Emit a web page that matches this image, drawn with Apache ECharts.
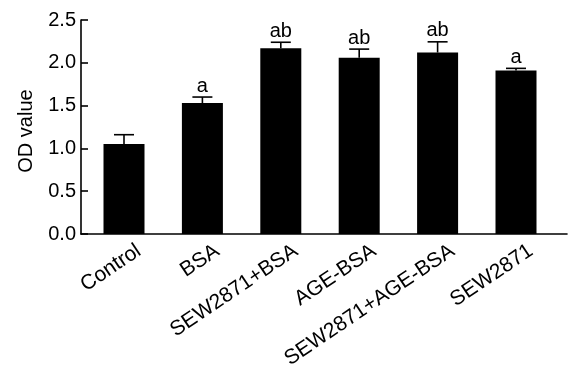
<!DOCTYPE html>
<html>
<head>
<meta charset="utf-8">
<script src="https://cdn.jsdelivr.net/npm/echarts@6/dist/echarts.min.js"></script>
<style>html,body{margin:0;padding:0;background:#fff;}#c{width:568px;height:367px;}</style>
</head>
<body>
<div id="c"></div>
<script>
var categories = ['Control', 'BSA', 'SEW2871+BSA', 'AGE-BSA', 'SEW2871+AGE-BSA', 'SEW2871'];
var means = [1.05, 1.53, 2.17, 2.06, 2.12, 1.91];
var errors = [0.11, 0.07, 0.07, 0.10, 0.125, 0.025];
var sigLabels = ['', 'a', 'ab', 'ab', 'ab', 'a'];
var yTicks = [0, 0.5, 1.0, 1.5, 2.0, 2.5];

var FONT = 'Liberation Sans';
var FS = 20;
var XFS = 21;
var chart = echarts.init(document.getElementById('c'), null, {renderer: 'canvas'});
var errData = means.map(function (m, i) { return [i, m, errors[i]]; });

chart.setOption({
  animation: false,
  backgroundColor: '#fff',
  textStyle: {fontFamily: FONT},
  grid: [
    {left: 81, right: 1, top: 20, bottom: 133},
    {left: 84.8, right: 12.8, top: 20, bottom: 133}
  ],
  xAxis: [
    {gridIndex: 0, type: 'value', min: 0, max: 1, axisLine: {show: true, onZero: false, lineStyle: {color: '#000', width: 1.6}},
     axisTick: {show: false}, axisLabel: {show: false}, splitLine: {show: false}},
    {gridIndex: 1, type: 'category', data: categories, boundaryGap: true,
     axisLine: {show: false}, axisTick: {show: false}, splitLine: {show: false},
     axisLabel: {show: false}}
  ],
  yAxis: [
    {gridIndex: 0, type: 'value', min: yTicks[0], max: yTicks[yTicks.length - 1], interval: 0.5,
     name: 'OD value', nameLocation: 'middle', nameGap: 45, nameRotate: 90,
     nameTextStyle: {fontSize: FS, color: '#000', fontFamily: FONT, padding: [0, 8, 0, 0]},
     axisLine: {show: true, lineStyle: {color: '#000', width: 1.6}},
     axisTick: {show: true, inside: true, length: 7, lineStyle: {color: '#000', width: 1.6}},
     axisLabel: {fontSize: FS, color: '#000', margin: 5, fontFamily: FONT, formatter: function (v) { return v.toFixed(1); }},
     splitLine: {show: false}},
    {gridIndex: 1, type: 'value', min: 0, max: 2.5, show: false}
  ],
  series: [
    {type: 'bar', xAxisIndex: 1, yAxisIndex: 1, data: means, barWidth: 41,
     itemStyle: {color: '#000'}, z: 2},
    {type: 'custom', xAxisIndex: 1, yAxisIndex: 1, data: errData, z: 3, clip: false,
     renderItem: function (params, api) {
       var i = api.value(0), m = api.value(1), e = api.value(2);
       var lbl = sigLabels[i];
       var top = api.coord([i, m]);
       var cap = api.coord([i, m + e]);
       var base = api.coord([i, 0]);
       var hw = 10;
       var children = [
         {type: 'line', shape: {x1: top[0], y1: top[1], x2: cap[0], y2: cap[1]}, style: {stroke: '#000', lineWidth: 1.6}},
         {type: 'line', shape: {x1: cap[0] - hw, y1: cap[1], x2: cap[0] + hw, y2: cap[1]}, style: {stroke: '#000', lineWidth: 1.6}},
         {type: 'text', x: base[0] + 15, y: base[1] + 15, rotation: 34 * Math.PI / 180,
          style: {text: categories[i], x: 0, y: 0, align: 'right', verticalAlign: 'middle',
            font: XFS + 'px "' + FONT + '"', fill: '#000'}}
       ];
       if (lbl) {
         children.push({type: 'text', style: {text: lbl, x: cap[0], y: cap[1] - 1, align: 'center', verticalAlign: 'bottom',
           font: FS + 'px "' + FONT + '"', fill: '#000'}});
       }
       return {type: 'group', children: children};
     }}
  ]
});
</script>
</body>
</html>
